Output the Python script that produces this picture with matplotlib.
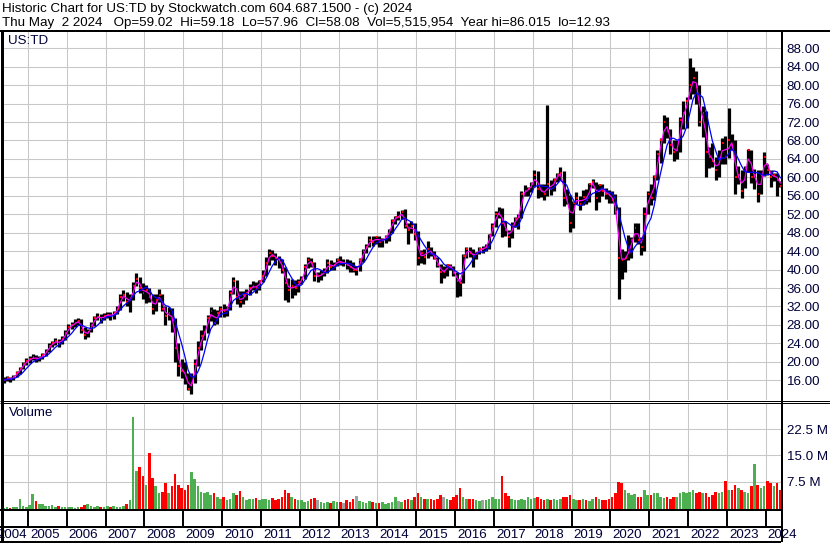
import numpy as np
import pandas as pd
import matplotlib
matplotlib.use("Agg")
import matplotlib.pyplot as plt
from matplotlib.lines import Line2D
from matplotlib.transforms import offset_copy

plt.rcParams["font.family"] = ["Liberation Sans", "DejaVu Sans"]

W, H = 830, 543
FS = 9.6

title = "Historic Chart for US:TD by Stockwatch.com 604.687.1500 - (c) 2024"
subtitle = ("Thu May  2 2024   Op=59.02  Hi=59.18  Lo=57.96  Cl=58.08  "
            "Vol=5,515,954  Year hi=86.015  lo=12.93")
symbol = "US:TD"

# one bar per month, May 2004 .. May 2024 (last bar is May 2 only)
close = [
    16.0, 16.4, 16.2, 16.8, 17.6, 18.5, 19.5, 20.2,
    20.5, 21.0, 20.6, 20.8, 21.5, 22.2, 23.5, 24.0, 24.5, 24.0, 25.0, 26.3,
    27.5, 28.0, 28.5, 28.9, 27.0, 25.8, 26.5, 28.0, 29.5, 29.8, 29.3, 30.0,
    30.2, 30.0, 30.5, 31.5, 34.0, 34.5, 33.0, 33.5, 36.5, 38.0, 36.0, 35.0,
    35.5, 34.0, 31.5, 33.5, 34.5, 31.5, 30.0, 30.5, 29.0, 23.0, 19.0, 18.0,
    17.0, 14.0, 15.5, 19.5, 23.0, 25.5, 26.5, 29.5, 31.0, 28.5, 30.5, 31.5,
    31.0, 31.5, 35.0, 37.5, 34.0, 33.0, 34.5, 35.0, 36.0, 36.5, 36.0, 37.5,
    38.5, 41.5, 43.5, 43.0, 42.5, 42.0, 40.0, 37.0, 35.5, 36.5, 36.0, 37.2,
    38.0, 40.5, 42.0, 41.5, 38.5, 38.5, 39.0, 39.5, 41.5, 40.5, 41.0, 42.0,
    41.5, 41.5, 41.0, 40.5, 40.0, 40.0, 42.0, 44.0, 45.0, 46.5, 46.0, 47.0,
    46.0, 46.5, 47.0, 48.5, 50.5, 51.5, 51.5, 52.5, 49.5, 48.5, 49.5, 47.8,
    42.5, 43.5, 42.8, 44.5, 43.5, 42.5, 41.0, 39.5, 39.5, 41.0, 40.5, 39.2,
    37.5, 37.0, 43.0, 44.5, 43.5, 43.0, 43.5, 44.5, 44.5, 45.0, 47.5, 49.5,
    52.0, 52.5, 50.0, 48.5, 47.0, 49.5, 51.0, 51.5, 56.5, 57.0, 57.5, 58.5,
    60.5, 57.5, 57.0, 56.5, 58.5, 57.5, 59.5, 60.5, 61.0, 55.5, 55.0, 50.0,
    54.5, 55.5, 54.3, 55.8, 55.0, 58.5, 59.0, 55.5, 58.3, 57.0, 56.5, 56.2,
    55.0, 52.5, 42.5, 42.0, 42.5, 44.5, 46.5, 49.0, 46.5, 45.0, 52.0, 56.5,
    55.5, 60.0, 65.0, 68.0, 72.0, 70.0, 67.0, 65.5, 66.0, 72.5, 74.0, 76.5,
    80.0, 81.5, 79.5, 72.0, 74.0, 65.5, 64.5, 63.5, 61.5, 64.0, 67.5, 64.5,
    68.0, 67.0, 60.0, 60.5, 57.0, 62.0, 66.0, 60.0, 60.5, 56.5, 60.5, 64.5,
    61.5, 60.0, 60.5, 59.5, 58.08,
]
high = [
    16.6, 16.9, 16.8, 17.1, 17.9, 18.9, 20.0, 20.8,
    21.2, 21.6, 21.4, 21.3, 22.0, 22.8, 24.0, 24.6, 25.2, 24.9, 25.6, 26.8,
    28.2, 28.7, 29.2, 29.6, 29.3, 27.6, 27.2, 28.6, 30.0, 30.5, 30.3, 30.6,
    30.9, 30.8, 31.0, 32.2, 34.8, 35.5, 35.2, 34.6, 37.2, 39.2, 38.4, 37.0,
    36.6, 36.0, 34.6, 34.8, 35.8, 34.8, 32.0, 31.8, 31.6, 29.5, 24.0, 20.5,
    20.0, 17.5, 17.5, 20.5, 24.5, 26.8, 28.0, 30.2, 31.8, 31.5, 31.2, 32.2,
    32.5, 32.0, 35.5, 38.3, 37.8, 35.3, 35.4, 35.8, 36.8, 37.6, 37.2, 37.8,
    39.8, 42.8, 44.5, 44.3, 43.6, 43.0, 42.2, 40.5, 38.2, 38.0, 37.8, 38.0,
    38.5, 41.2, 42.8, 42.6, 41.7, 39.5, 39.8, 40.4, 42.2, 42.0, 41.6, 42.5,
    43.0, 42.4, 42.2, 42.0, 41.6, 40.8, 42.5, 44.5, 45.6, 47.3, 47.2, 47.3,
    47.3, 46.9, 47.6, 48.9, 51.0, 51.6, 52.8, 53.0, 53.2, 50.0, 50.6, 50.0,
    48.3, 44.2, 44.5, 46.3, 45.0, 44.0, 42.7, 41.2, 40.8, 41.3, 41.2, 40.8,
    39.5, 38.0, 43.3, 45.0, 45.0, 44.5, 43.9, 45.0, 45.2, 45.6, 47.8, 50.2,
    52.6, 53.5, 53.3, 50.6, 48.6, 50.3, 51.4, 52.1, 57.0, 58.3, 58.0, 59.0,
    61.5, 61.3, 58.5, 58.5, 75.6, 59.4, 59.8, 60.9, 62.2, 61.4, 57.5, 56.2,
    54.8, 56.8, 56.0, 57.2, 57.5, 58.7, 59.6, 59.0, 58.6, 58.5, 57.6, 57.2,
    57.0, 56.3, 53.5, 44.5, 44.0, 47.5, 47.0, 50.0, 50.2, 47.0, 53.5, 57.0,
    58.5, 60.5, 66.0, 68.5, 73.5, 73.0, 70.5, 68.0, 68.0, 73.0, 76.5, 77.5,
    86.0, 84.0, 83.0, 80.0, 75.5, 74.5, 66.5, 67.5, 64.5, 66.0, 68.5, 69.0,
    75.1, 69.5, 68.0, 62.5, 61.5, 62.5, 66.2, 66.0, 61.8, 61.5, 61.5, 65.5,
    63.0, 61.5, 61.0, 61.0, 59.18,
]
low = [
    15.3, 15.8, 15.7, 16.0, 16.7, 17.4, 18.4, 19.3,
    19.8, 20.3, 20.0, 20.1, 20.6, 21.3, 22.2, 23.3, 23.6, 23.2, 23.9, 24.8,
    26.1, 27.1, 27.6, 28.0, 26.3, 24.9, 25.4, 26.4, 27.8, 29.0, 28.5, 29.1,
    29.4, 29.1, 29.3, 30.3, 31.3, 33.2, 32.0, 30.8, 33.4, 36.4, 35.0, 33.6,
    32.8, 33.0, 30.4, 31.0, 33.0, 31.0, 28.0, 29.0, 26.5, 20.0, 17.0, 16.5,
    15.2, 13.8, 12.93, 15.3, 19.0, 22.5, 24.8, 26.2, 28.8, 28.0, 28.2, 29.8,
    29.8, 30.0, 31.3, 34.8, 32.5, 31.8, 32.6, 33.4, 34.5, 35.5, 35.0, 35.6,
    37.2, 38.5, 41.0, 42.0, 41.0, 40.3, 39.2, 33.5, 33.0, 33.8, 34.5, 35.2,
    36.8, 38.0, 40.3, 40.5, 37.5, 37.2, 37.8, 38.6, 39.3, 39.8, 40.0, 40.8,
    41.0, 40.8, 40.2, 39.5, 39.5, 38.8, 39.6, 41.6, 43.6, 45.0, 45.2, 45.5,
    44.8, 44.8, 45.8, 46.3, 48.0, 49.8, 50.8, 51.0, 49.0, 45.5, 48.0, 46.5,
    41.0, 41.5, 41.2, 42.6, 43.0, 42.4, 40.6, 37.0, 38.2, 38.5, 39.8, 38.5,
    34.0, 34.3, 37.0, 42.5, 42.8, 40.5, 42.3, 43.4, 43.7, 44.0, 44.4, 47.3,
    49.3, 51.2, 47.0, 47.3, 45.0, 46.8, 49.3, 48.9, 51.2, 56.0, 56.0, 56.8,
    58.0, 55.5, 55.8, 55.0, 56.0, 56.2, 57.0, 59.0, 59.5, 53.8, 54.3, 48.1,
    49.0, 54.2, 53.0, 54.0, 54.3, 54.6, 57.8, 53.0, 54.6, 56.0, 55.3, 54.5,
    54.5, 52.0, 33.7, 38.0, 39.5, 42.0, 42.5, 46.0, 45.5, 43.2, 44.0, 52.0,
    54.0, 55.2, 59.5, 63.2, 67.5, 68.5, 65.0, 63.5, 64.0, 65.6, 70.5, 70.8,
    77.0, 78.0, 76.0, 71.2, 68.8, 60.0, 62.0, 62.3, 59.5, 60.0, 63.0, 63.0,
    64.2, 66.0, 56.5, 58.6, 55.5, 57.6, 61.2, 58.8, 57.5, 54.7, 56.5, 60.3,
    60.5, 58.0, 59.2, 56.0, 57.96,
]
# average daily volume per month, millions of shares
volume = [
    0.4, 0.5, 0.3, 0.5, 0.6, 3.0, 0.8, 0.7,
    1.2, 4.4, 2.2, 1.5, 1.3, 0.8, 0.9, 1.1, 0.7, 0.8, 0.6, 0.5,
    0.5, 0.6, 0.4, 0.5, 0.7, 1.2, 1.3, 0.9, 0.6, 0.8, 0.5, 0.7,
    0.9, 0.6, 0.8, 0.6, 0.7, 0.9, 1.5, 2.5, 26.4, 11.0, 12.0, 9.5,
    7.0, 15.9, 9.0, 6.5, 4.5, 5.0, 7.5, 4.5, 6.5, 10.0, 7.0, 6.0,
    5.5, 7.0, 10.7, 8.5, 6.5, 5.0, 4.5, 5.0, 4.0, 4.5, 3.5, 3.0,
    3.5, 2.5, 3.0, 4.5, 4.0, 5.2, 3.5, 2.5, 3.0, 2.8, 3.2, 2.5,
    2.8, 3.0, 2.5, 3.2, 2.5, 3.0, 3.5, 5.5, 4.5, 3.5, 3.0, 2.5,
    2.5, 2.0, 2.2, 3.0, 3.2, 2.5, 2.0, 1.8, 2.0, 1.8, 2.2, 2.0,
    2.0, 1.8, 2.6, 2.0, 3.0, 3.8, 2.2, 2.0, 1.8, 2.2, 2.0, 1.8,
    1.8, 2.0, 1.5, 1.8, 2.0, 3.5, 2.2, 2.0, 2.5, 3.0, 2.5, 3.5,
    4.5, 3.5, 3.0, 2.8, 3.0, 2.5, 3.0, 4.0, 3.5, 2.8, 2.5, 3.5,
    4.0, 6.0, 3.5, 3.0, 2.8, 3.0, 2.5, 2.2, 2.5, 2.5, 3.0, 3.5,
    3.0, 2.8, 9.5, 4.5, 3.8, 3.0, 2.5, 2.5, 2.8, 2.5, 3.5, 3.0,
    3.2, 3.5, 2.8, 2.5, 2.8, 2.5, 2.8, 2.5, 3.0, 3.5, 3.5, 4.0,
    3.0, 2.5, 2.5, 2.8, 2.5, 2.2, 3.0, 3.5, 2.8, 2.5, 2.5, 3.0,
    3.5, 4.5, 7.8, 7.5, 5.5, 4.5, 4.0, 4.2, 3.5, 3.5, 5.5, 4.0,
    4.0, 4.5, 4.5, 3.5, 3.2, 3.5, 3.0, 3.5, 3.5, 4.5, 5.0, 4.5,
    5.0, 5.5, 4.5, 5.0, 4.5, 4.5, 3.5, 4.0, 5.0, 4.5, 5.0, 7.9,
    5.5, 5.5, 7.0, 6.0, 5.5, 5.0, 4.5, 6.5, 13.0, 7.0, 6.0, 6.5,
    8.0, 7.5, 6.5, 7.5, 5.5,
]

years = list(range(2004, 2025))
price_ticks = list(range(16, 89, 4))
vol_ticks = [7.5, 15.0, 22.5]
vol_labels = ["7.5 M", "15.0 M", "22.5 M"]

n = len(close)
assert len(high) == n and len(low) == n and len(volume) == n
pos = np.arange(n) + 0.5
year_pos = [(y - 2004) * 12 - 4 for y in years]  # Jan of each year, months from May 2004

cs = pd.Series(close)
ma_fast = cs.rolling(2, min_periods=1).mean()
ma_slow = cs.rolling(5, min_periods=1).mean()
chg = cs.diff().fillna(1)
vol_colors = np.where(chg > 0, "#4caf50", np.where(chg < 0, "#ff0000", "#a0a0a0"))

grid_c = "#c8c8c8"
lab_c = "#00003a"

fig = plt.figure(figsize=(W / 100, H / 100), dpi=100)


def box(x0, y0, x1, y1):
    return [x0 / W, 1 - y1 / H, (x1 - x0) / W, (y1 - y0) / H]


def rule(xs, ys, lw):
    fig.add_artist(Line2D([x / W for x in xs], [1 - y / H for y in ys],
                          transform=fig.transFigure, color="black", lw=lw * 0.72,
                          solid_capstyle="butt"))


ax = fig.add_axes(box(3, 31, 781, 400))
axv = fig.add_axes(box(3, 403, 781, 509))
axd = fig.add_axes(box(3, 509, 781, 542))

for a in (ax, axv, axd):
    a.set_xlim(0.3, n - 0.3)
    for s in a.spines.values():
        s.set_visible(False)
    a.set_xticks(year_pos[1:])
    a.set_xticklabels([])
    a.tick_params(axis="x", length=0)

# price panel
ax.set_ylim(11.71, 91.75)
ax.set_yticks(price_ticks)
ax.set_yticklabels([f"{p:.2f}" for p in price_ticks])
ax.tick_params(axis="y", left=False, right=False, labelleft=False, labelright=True,
               length=0, pad=4, labelsize=FS, labelcolor=lab_c)
ax.grid(True, color=grid_c, lw=0.75)
ax.set_axisbelow(True)
ax.vlines(pos, low, high, color="black", lw=2.3)
ax.hlines(close, pos - 0.05, pos + 0.5, color="red", lw=1.5)
ax.plot(pos, ma_fast, color="#ff00ff", lw=0.9)
ax.plot(pos, ma_slow, color="#0000ff", lw=0.9)

# volume panel
axv.set_ylim(-0.3, 30.0)
axv.set_yticks(vol_ticks)
axv.set_yticklabels(vol_labels)
axv.tick_params(axis="y", left=False, right=False, labelleft=False, labelright=True,
                length=0, pad=4, labelsize=FS, labelcolor=lab_c)
axv.grid(True, color=grid_c, lw=0.75)
axv.set_axisbelow(True)
axv.bar(pos, volume, width=0.8, bottom=-0.3, color=vol_colors, lw=0)

# date strip
axd.set_ylim(542, 509)
axd.set_yticks([])
axd.vlines(year_pos[1:], 509, 527, color="black", lw=1.4)
shift = offset_copy(axd.transData, fig=fig, x=2, y=0, units="dots")
for y, xp in zip(years[1:], year_pos[1:]):
    axd.text(xp, 534.5, str(y), transform=shift, ha="left", va="center",
             fontsize=FS, color=lab_c, clip_on=False)
back = offset_copy(axd.transData, fig=fig, x=-1, y=0, units="dots")
axd.text(year_pos[1], 534.5, str(years[0]), transform=back, ha="right", va="center",
         fontsize=FS, color=lab_c, clip_on=False)

# frame rules
rule([0, 830], [31, 31], 2)
rule([0, 830], [400.5, 400.5], 1)
rule([0, 830], [403, 403], 1)
rule([0, 781], [509.5, 509.5], 2)
rule([0, 781], [527, 527], 2)
rule([0, 781], [541.5, 541.5], 2)
rule([1.5, 1.5], [31, 543], 3)
rule([781.5, 781.5], [31, 542], 2)

fig.text(2 / W, 1 - 9 / H, title, fontsize=FS, va="center", ha="left")
fig.text(2 / W, 1 - 23 / H, subtitle, fontsize=FS, va="center", ha="left")
fig.text(8 / W, 1 - 41 / H, symbol, fontsize=FS, va="center", ha="left", color=lab_c)
fig.text(9 / W, 1 - 413 / H, "Volume", fontsize=FS, va="center", ha="left", color=lab_c)

fig.savefig("out.png", dpi=100)
